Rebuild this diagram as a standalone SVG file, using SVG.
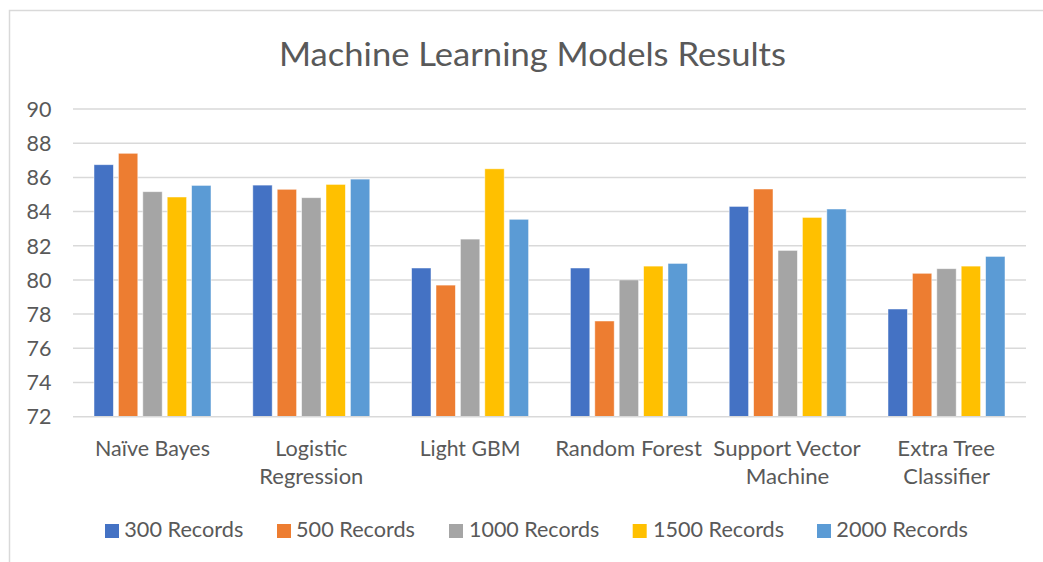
<svg xmlns="http://www.w3.org/2000/svg" width="1043" height="562" viewBox="0 0 1043 562">
<style>
.t{font-family:Lato,"Liberation Sans",sans-serif;fill:#595959}
.title{font-size:33px}
.ax{font-size:21.5px}
.grid{stroke:#d9d9d9;stroke-width:1.5;fill:none}
.bar{stroke:#fff;stroke-width:0.8;stroke-opacity:0.6}
.s1{fill:#4472C4}.s2{fill:#ED7D31}.s3{fill:#A5A5A5}.s4{fill:#FFC000}.s5{fill:#5B9BD5}
</style>
<rect width="1043" height="562" fill="#fff"/>
<path d="M9.5 562V10.5H1043" stroke="#d9d9d9" stroke-width="1.5" fill="none"/>
<text class="t title" x="532.5" y="66" text-anchor="middle" textLength="507" lengthAdjust="spacingAndGlyphs">Machine Learning Models Results</text>
<g id="gridlines">
<path class="grid" d="M73 109H1026M73 143.2H1026M73 177.4H1026M73 211.6H1026M73 245.8H1026M73 279.9H1026M73 314.1H1026M73 348.3H1026M73 382.5H1026"/>
</g>
<g id="yaxis" class="t ax" text-anchor="end">
<text x="51.5" y="116.7">90</text>
<text x="51.5" y="150.9">88</text>
<text x="51.5" y="185.1">86</text>
<text x="51.5" y="219.3">84</text>
<text x="51.5" y="253.5">82</text>
<text x="51.5" y="287.6">80</text>
<text x="51.5" y="321.8">78</text>
<text x="51.5" y="356">76</text>
<text x="51.5" y="390.2">74</text>
<text x="51.5" y="424.4">72</text>
</g>
<g id="naive-bayes">
<rect class="bar s1" x="94" y="164.7" width="19.4" height="252"/>
<rect class="bar s2" x="118.4" y="153.3" width="19.4" height="263.4"/>
<rect class="bar s3" x="142.8" y="191.7" width="19.4" height="225"/>
<rect class="bar s4" x="167.2" y="197" width="19.4" height="219.7"/>
<rect class="bar s5" x="191.6" y="185.4" width="19.4" height="231.3"/>
<text class="t ax" x="152.5" y="455.7" text-anchor="middle" textLength="115" lengthAdjust="spacingAndGlyphs">Naïve Bayes</text>
</g>
<g id="logistic-regression">
<rect class="bar s1" x="252.8" y="185.1" width="19.4" height="231.6"/>
<rect class="bar s2" x="277.2" y="189.3" width="19.4" height="227.4"/>
<rect class="bar s3" x="301.6" y="197.7" width="19.4" height="219"/>
<rect class="bar s4" x="326" y="184.4" width="19.4" height="232.3"/>
<rect class="bar s5" x="350.4" y="179.1" width="19.4" height="237.6"/>
<text class="t ax" x="311.3" y="455.7" text-anchor="middle" textLength="72" lengthAdjust="spacingAndGlyphs">Logistic</text>
<text class="t ax" x="311.3" y="484" text-anchor="middle" textLength="104" lengthAdjust="spacingAndGlyphs">Regression</text>
</g>
<g id="light-gbm">
<rect class="bar s1" x="411.6" y="268" width="19.4" height="148.7"/>
<rect class="bar s2" x="436" y="285.1" width="19.4" height="131.6"/>
<rect class="bar s3" x="460.4" y="239.1" width="19.4" height="177.6"/>
<rect class="bar s4" x="484.8" y="168.8" width="19.4" height="247.9"/>
<rect class="bar s5" x="509.2" y="219.3" width="19.4" height="197.4"/>
<text class="t ax" x="470" y="455.7" text-anchor="middle" textLength="100.7" lengthAdjust="spacingAndGlyphs">Light GBM</text>
</g>
<g id="random-forest">
<rect class="bar s1" x="570.4" y="268" width="19.4" height="148.7"/>
<rect class="bar s2" x="594.8" y="321" width="19.4" height="95.7"/>
<rect class="bar s3" x="619.2" y="279.9" width="19.4" height="136.8"/>
<rect class="bar s4" x="643.6" y="266.1" width="19.4" height="150.6"/>
<rect class="bar s5" x="668" y="263.4" width="19.4" height="153.3"/>
<text class="t ax" x="628.5" y="455.7" text-anchor="middle" textLength="146.7" lengthAdjust="spacingAndGlyphs">Random Forest</text>
</g>
<g id="support-vector-machine">
<rect class="bar s1" x="729.2" y="206.4" width="19.4" height="210.3"/>
<rect class="bar s2" x="753.6" y="189" width="19.4" height="227.7"/>
<rect class="bar s3" x="778" y="250.4" width="19.4" height="166.3"/>
<rect class="bar s4" x="802.4" y="217.4" width="19.4" height="199.3"/>
<rect class="bar s5" x="826.8" y="209" width="19.4" height="207.7"/>
<text class="t ax" x="787" y="455.7" text-anchor="middle" textLength="147.3" lengthAdjust="spacingAndGlyphs">Support Vector</text>
<text class="t ax" x="787.5" y="484" text-anchor="middle" textLength="83.7" lengthAdjust="spacingAndGlyphs">Machine</text>
</g>
<g id="extra-tree-classifier">
<rect class="bar s1" x="888" y="309" width="19.4" height="107.7"/>
<rect class="bar s2" x="912.4" y="273.3" width="19.4" height="143.4"/>
<rect class="bar s3" x="936.8" y="268.7" width="19.4" height="148"/>
<rect class="bar s4" x="961.2" y="266.1" width="19.4" height="150.6"/>
<rect class="bar s5" x="985.6" y="256.4" width="19.4" height="160.3"/>
<text class="t ax" x="946.2" y="455.7" text-anchor="middle" textLength="97.7" lengthAdjust="spacingAndGlyphs">Extra Tree</text>
<text class="t ax" x="946.7" y="484" text-anchor="middle" textLength="86.7" lengthAdjust="spacingAndGlyphs">Classifier</text>
</g>
<g id="xaxis">
<path class="grid" d="M73 416.7H1026"/>
</g>
<g id="legend" class="t ax">
<rect class="s1" x="105" y="524" width="14" height="14"/>
<text x="124.3" y="537.3" textLength="119" lengthAdjust="spacingAndGlyphs">300 Records</text>
<rect class="s2" x="277" y="524" width="14" height="14"/>
<text x="296" y="537.3" textLength="119" lengthAdjust="spacingAndGlyphs">500 Records</text>
<rect class="s3" x="449" y="524" width="14" height="14"/>
<text x="469" y="537.3" textLength="130.3" lengthAdjust="spacingAndGlyphs">1000 Records</text>
<rect class="s4" x="632.7" y="524" width="14" height="14"/>
<text x="653" y="537.3" textLength="131" lengthAdjust="spacingAndGlyphs">1500 Records</text>
<rect class="s5" x="817" y="524" width="14" height="14"/>
<text x="836.3" y="537.3" textLength="131.7" lengthAdjust="spacingAndGlyphs">2000 Records</text>
</g>
</svg>
